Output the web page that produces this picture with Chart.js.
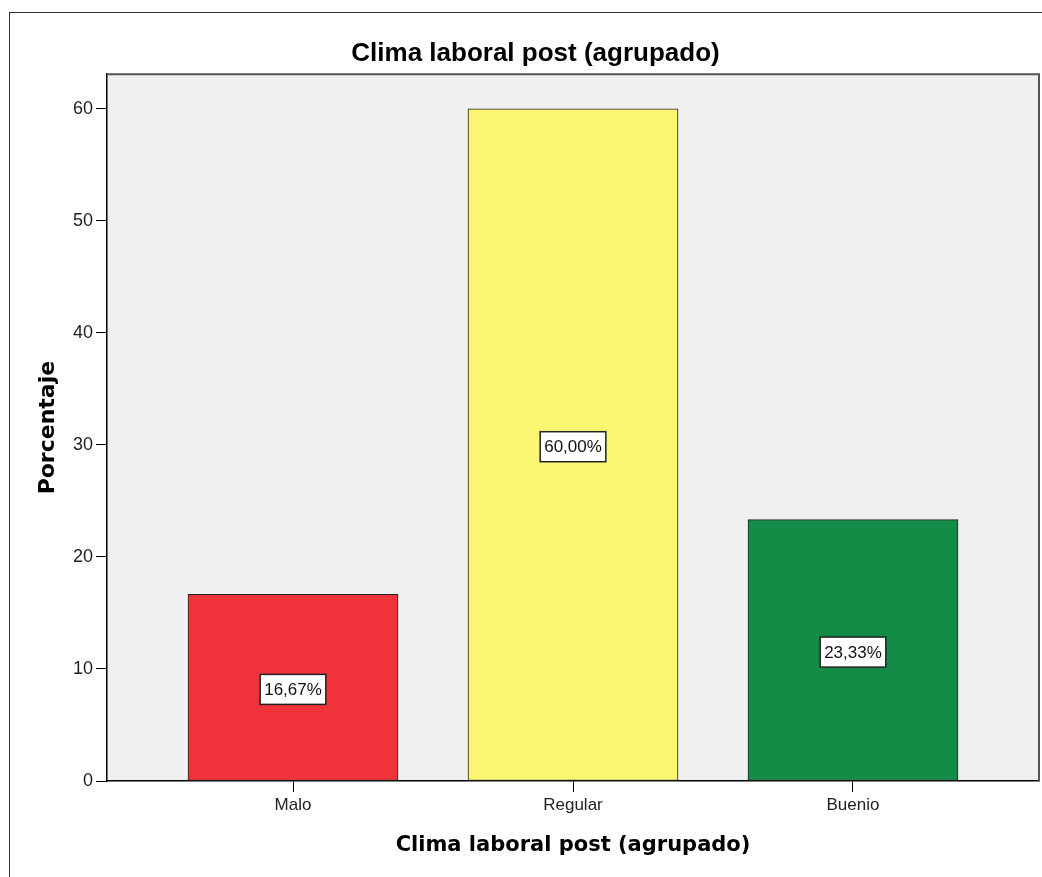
<!DOCTYPE html>
<html><head><meta charset="utf-8">
<script src="https://cdn.jsdelivr.net/npm/chart.js@4/dist/chart.umd.min.js"></script>
<style>html,body{margin:0;padding:0;background:#fff}#wrap{width:1042px;height:877px;position:relative}</style>
</head><body><div id="wrap"><canvas id="c" width="1042" height="877"></canvas></div>
<script>
const categories = ['Malo', 'Regular', 'Buenio'];
const percentages = [16.67, 60.00, 23.33];
const barColors = ['#f0323a', '#faf672', '#138c48'];
const yTicks = [0, 10, 20, 30, 40, 50, 60];
const chartTitle = 'Clima laboral post (agrupado)';
const xTitle = 'Clima laboral post (agrupado)';
const yTitle = 'Porcentaje';

const framePlugin = {
  id: 'frame',
  beforeDraw(chart) {
    const ctx = chart.ctx, a = chart.chartArea;
    ctx.save();
    ctx.fillStyle = '#fff';
    ctx.fillRect(0, 0, chart.width, chart.height);
    ctx.strokeStyle = '#333';
    ctx.lineWidth = 1;
    ctx.strokeRect(9.5, 12.5, 1100, 1000);
    ctx.fillStyle = '#f0f0f0';
    ctx.fillRect(a.left, a.top, a.right - a.left, a.bottom - a.top);
    ctx.restore();
  },
  afterDraw(chart) {
    const ctx = chart.ctx, a = chart.chartArea;
    ctx.save();
    ctx.strokeStyle = '#555';
    ctx.lineWidth = 2;
    ctx.beginPath();
    ctx.moveTo(a.left, a.top);
    ctx.lineTo(a.right, a.top);
    ctx.lineTo(a.right, a.bottom);
    ctx.stroke();
    // data labels
    const meta = chart.getDatasetMeta(0);
    ctx.font = '17px "Liberation Sans", Arial, sans-serif';
    ctx.textAlign = 'center';
    ctx.textBaseline = 'middle';
    meta.data.forEach((el, i) => {
      const txt = percentages[i].toFixed(2).replace('.', ',') + '%';
      const cx = el.x, cy = (el.y + el.base) / 2 + 2;
      const w = ctx.measureText(txt).width + 8, h = 30;
      ctx.fillStyle = '#fff';
      ctx.fillRect(cx - w / 2, cy - h / 2, w, h);
      ctx.strokeStyle = '#222';
      ctx.lineWidth = 1.5;
      ctx.strokeRect(cx - w / 2, cy - h / 2, w, h);
      ctx.fillStyle = '#111';
      ctx.fillText(txt, cx, cy + 1);
    });
    ctx.restore();
  }
};

new Chart(document.getElementById('c'), {
  type: 'bar',
  data: {
    datasets: [{
      data: percentages.map((v, i) => ({ x: i + 1, y: v })),
      backgroundColor: barColors,
      borderColor: '#222',
      borderWidth: 1,
      borderSkipped: false,
      barThickness: 210
    }]
  },
  options: {
    responsive: false,
    animation: false,
    devicePixelRatio: 1,
    layout: { padding: { left: 32, right: 3, top: 0, bottom: 0 } },
    plugins: {
      legend: { display: false },
      tooltip: { enabled: false },
      title: {
        display: true,
        text: chartTitle,
        color: '#000',
        font: { family: '"Liberation Sans", Arial, sans-serif', size: 26, weight: 'bold', lineHeight: 1.2 },
        padding: { top: 38, bottom: 5 }
      }
    },
    scales: {
      x: {
        type: 'linear',
        offset: false,
        min: 0.3357,
        max: 3.6643,
        afterBuildTicks(s) { s.ticks = categories.map((c, i) => ({ value: i + 1 })); },
        afterFit(s) { s.height = 96; },
        grid: { offset: false, drawOnChartArea: false, drawTicks: true, tickLength: 11, color: '#000', lineWidth: 1 },
        border: { display: true, color: '#000', width: 1.5 },
        ticks: {
          color: '#222',
          padding: 3,
          font: { family: '"Liberation Sans", Arial, sans-serif', size: 17 },
          callback: (v) => categories[Math.round(v) - 1]
        },
        title: {
          display: true,
          text: xTitle,
          color: '#000',
          font: { family: '"DejaVu Sans", sans-serif', size: 21, weight: 'bold', lineHeight: 1.2 },
          padding: { top: 0, bottom: 19 }
        }
      },
      y: {
        min: 0,
        max: 63.1,
        afterBuildTicks(s) { s.ticks = yTicks.map(v => ({ value: v })); },
        afterFit(s) { s.width = 75; },
        grid: { drawOnChartArea: false, drawTicks: true, tickLength: 11, color: '#000', lineWidth: 1 },
        border: { display: true, color: '#000', width: 1.5 },
        ticks: {
          color: '#222',
          padding: 3,
          font: { family: '"Liberation Sans", Arial, sans-serif', size: 18 }
        },
        title: {
          display: true,
          text: yTitle,
          color: '#000',
          font: { family: '"DejaVu Sans", sans-serif', size: 22, weight: 'bold', lineHeight: 1.2 },
          padding: { top: 3, bottom: 0 }
        }
      }
    }
  },
  plugins: [framePlugin]
});
</script></body></html>
